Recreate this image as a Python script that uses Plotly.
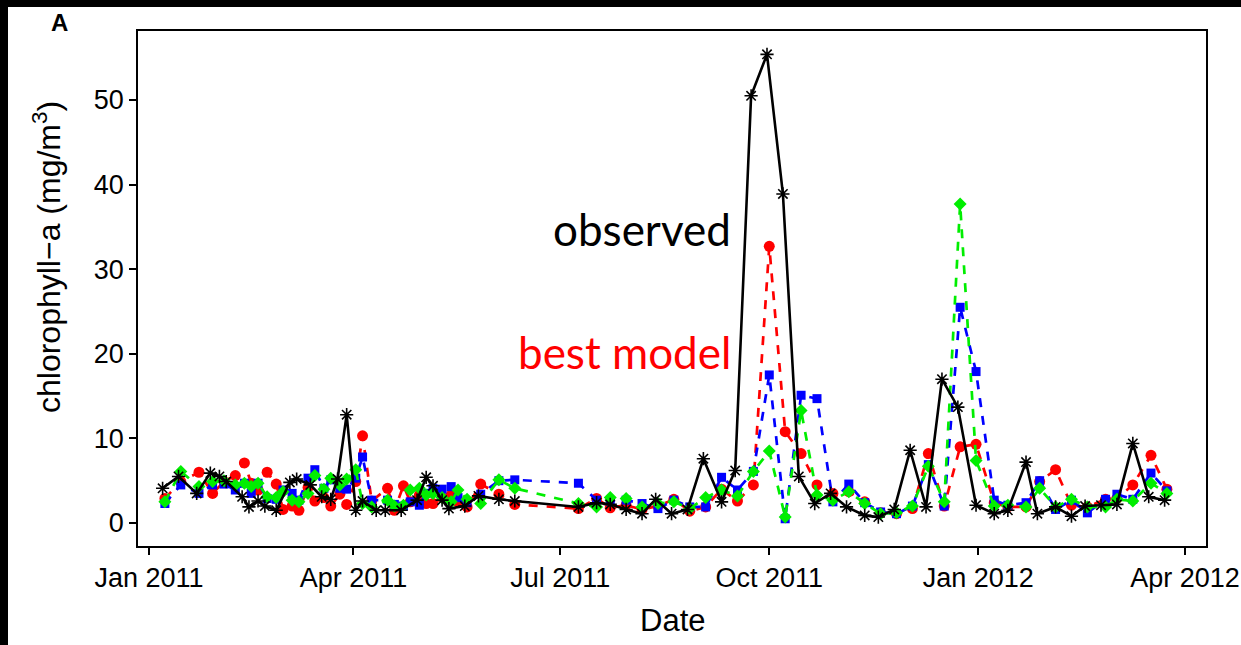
import plotly.graph_objects as go

# ---------------- data ----------------
obs_dates = [
    "2011-01-07", "2011-01-14", "2011-01-22", "2011-01-28", "2011-02-01", "2011-02-04",
    "2011-02-11", "2011-02-14", "2011-02-18", "2011-02-21", "2011-02-26", "2011-03-04",
    "2011-03-07", "2011-03-13", "2011-03-18", "2011-03-22", "2011-03-25", "2011-03-29",
    "2011-04-02", "2011-04-05", "2011-04-11", "2011-04-15", "2011-04-22", "2011-04-29",
    "2011-05-03", "2011-05-06", "2011-05-10", "2011-05-13", "2011-05-20", "2011-05-26",
    "2011-06-04", "2011-06-11", "2011-07-09", "2011-07-17", "2011-07-23", "2011-07-30",
    "2011-08-06", "2011-08-12", "2011-08-19", "2011-08-26", "2011-09-02", "2011-09-10",
    "2011-09-16", "2011-09-23", "2011-09-30", "2011-10-07", "2011-10-14", "2011-10-21",
    "2011-10-28", "2011-11-04", "2011-11-12", "2011-11-18", "2011-11-25", "2011-12-02",
    "2011-12-09", "2011-12-16", "2011-12-23", "2011-12-31", "2012-01-08", "2012-01-14",
    "2012-01-22", "2012-01-27", "2012-02-04", "2012-02-11", "2012-02-17", "2012-02-24",
    "2012-03-02", "2012-03-09", "2012-03-16", "2012-03-23",
]
obs_values = [
    4.1, 5.5, 3.5, 5.9, 5.5, 4.9,
    3.1, 1.9, 2.6, 2.0, 1.5, 4.8,
    5.2, 4.5, 3.1, 2.8, 5.2, 12.8,
    1.5, 2.6, 1.5, 1.5, 1.5, 2.7,
    5.4, 4.4, 2.7, 1.7, 2.0, 3.2,
    2.8, 2.6, 1.9, 2.4, 2.2, 1.6,
    1.1, 2.8, 1.1, 1.6, 7.6, 2.5,
    6.2, 50.5, 55.4, 38.9, 5.5, 2.3,
    3.5, 1.9, 0.9, 0.7, 1.6, 8.6,
    1.9, 17.0, 13.7, 2.1, 1.1, 1.5,
    7.2, 1.1, 1.9, 0.8, 2.0, 2.1,
    2.2, 9.4, 3.1, 2.7,
]

model_dates = [
    "2011-01-08", "2011-01-15", "2011-01-23", "2011-01-29", "2011-02-03", "2011-02-08",
    "2011-02-12", "2011-02-15", "2011-02-18", "2011-02-22", "2011-02-26", "2011-03-01",
    "2011-03-05", "2011-03-08", "2011-03-12", "2011-03-15", "2011-03-19", "2011-03-22",
    "2011-03-26", "2011-03-29", "2011-04-02", "2011-04-05", "2011-04-09", "2011-04-16",
    "2011-04-19", "2011-04-23", "2011-04-26", "2011-04-30", "2011-05-03", "2011-05-06",
    "2011-05-10", "2011-05-14", "2011-05-17", "2011-05-21", "2011-05-27", "2011-06-04",
    "2011-06-11", "2011-07-09", "2011-07-17", "2011-07-23", "2011-07-30", "2011-08-06",
    "2011-08-13", "2011-08-20", "2011-08-27", "2011-09-03", "2011-09-10", "2011-09-17",
    "2011-09-24", "2011-10-01", "2011-10-08", "2011-10-15", "2011-10-22", "2011-10-29",
    "2011-11-05", "2011-11-12", "2011-11-19", "2011-11-26", "2011-12-03", "2011-12-10",
    "2011-12-17", "2011-12-24", "2011-12-31", "2012-01-08", "2012-01-14", "2012-01-22",
    "2012-01-28", "2012-02-04", "2012-02-11", "2012-02-18", "2012-02-26", "2012-03-02",
    "2012-03-09", "2012-03-17", "2012-03-24",
]
red_values = [
    2.9, 4.9, 6.0, 3.5, 4.9, 5.6,
    7.1, 4.7, 3.9, 6.0, 4.6, 1.6,
    2.0, 1.5, 4.2, 2.6, 3.0, 2.0,
    3.4, 2.2, 4.9, 10.3, 2.6, 4.1,
    1.5, 4.4, 2.5, 3.3, 2.3, 2.3,
    3.0, 3.3, 2.5, 1.9, 4.6, 3.4,
    2.2, 1.7, 2.9, 1.8, 2.1, 1.6,
    2.0, 2.8, 1.4, 1.9, 4.0, 2.6,
    4.5, 32.7, 10.8, 8.2, 4.5, 3.5,
    3.7, 2.5, 1.2, 1.1, 1.7, 8.2,
    2.0, 9.0, 9.3, 2.4, 1.9, 1.9,
    4.9, 6.3, 2.1, 1.9, 2.8, 2.9,
    4.5, 8.0, 4.0,
]
blue_values = [
    2.3, 4.5, 3.5, 4.5, 4.6, 3.9,
    4.7, 3.5, 4.7, 2.9, 2.8, 3.9,
    3.5, 2.7, 5.3, 6.3, 4.1, 5.1,
    4.1, 4.0, 5.3, 7.8, 2.7, 2.7,
    2.2, 2.0, 2.5, 2.1, 3.5, 4.1,
    4.0, 4.3, 3.0, 2.4, 3.4, 5.0,
    5.1, 4.7, 2.7, 2.6, 2.7, 2.3,
    1.7, 2.7, 1.9, 1.9, 5.4, 3.9,
    6.1, 17.5, 0.5, 15.1, 14.7, 2.5,
    4.6, 2.4, 1.3, 1.1, 2.0, 6.9,
    2.0, 25.5, 17.9, 2.7, 2.1, 2.4,
    5.0, 1.6, 2.7, 1.2, 2.8, 3.4,
    2.8, 5.9, 3.8,
]
green_values = [
    2.5, 6.1, 4.3, 4.9, 5.0, 4.5,
    4.7, 4.3, 4.7, 3.1, 3.0, 3.7,
    2.7, 2.5, 3.5, 5.6, 4.0, 5.3,
    4.5, 5.2, 6.3, 2.3, 1.9, 2.7,
    2.0, 2.1, 3.9, 4.1, 3.3, 3.5,
    3.0, 2.5, 3.9, 2.8, 2.3, 5.1,
    4.1, 2.3, 1.9, 3.0, 2.9, 1.9,
    2.3, 2.5, 1.7, 3.0, 3.9, 3.2,
    6.1, 8.5, 0.7, 13.3, 3.3, 2.7,
    3.7, 2.3, 1.1, 1.2, 2.0, 6.7,
    2.5, 37.7, 7.4, 2.0, 2.1, 1.9,
    4.1, 1.9, 2.8, 1.9, 1.9, 2.8,
    2.6, 4.7, 3.5,
]

x_tick_dates = ["2011-01-01", "2011-04-01", "2011-07-01", "2011-10-01", "2012-01-01", "2012-04-01"]
x_tick_labels = ["Jan 2011", "Apr 2011", "Jul 2011", "Oct 2011", "Jan 2012", "Apr 2012"]
y_tick_values = [0, 10, 20, 30, 40, 50]

# ---------------- figure ----------------
W, H = 1241, 645
ML, MR, MT, MB = 138, 35, 31, 99
PW, PH = W - ML - MR, H - MT - MB


def px_x(px):
    return (px - ML) / PW


def px_y(py):
    return (H - MB - py) / PH


fig = go.Figure()

fig.add_trace(go.Scatter(
    x=model_dates, y=red_values, mode="lines+markers", name="red",
    line=dict(color="#ff0000", width=2.7, dash="dash"),
    marker=dict(symbol="circle", size=11, color="#ff0000"),
))
fig.add_trace(go.Scatter(
    x=model_dates, y=blue_values, mode="lines+markers", name="blue",
    line=dict(color="#0000ff", width=2.7, dash="dash"),
    marker=dict(symbol="square", size=9, color="#0000ff"),
))
fig.add_trace(go.Scatter(
    x=model_dates, y=green_values, mode="lines+markers", name="green",
    line=dict(color="#00ee00", width=2.7, dash="dash"),
    marker=dict(symbol="diamond", size=10, color="#00ee00"),
))
fig.add_trace(go.Scatter(
    x=obs_dates, y=obs_values, mode="lines+markers", name="observed",
    line=dict(color="#000000", width=2.6),
    marker=dict(symbol="asterisk-open", size=11, color="#000000",
                line=dict(color="#000000", width=1.6)),
))

font_axis = "Liberation Sans, Arial, sans-serif"

fig.update_layout(
    width=W, height=H,
    margin=dict(l=ML, r=MR, t=MT, b=MB, pad=0, autoexpand=False),
    paper_bgcolor="white", plot_bgcolor="white",
    showlegend=False,
    font=dict(family=font_axis, size=27, color="black"),
    xaxis=dict(
        type="date",
        automargin=False,
        range=["2010-12-27 04:00", "2012-04-10 05:00"],
        tickvals=x_tick_dates, ticktext=x_tick_labels,
        ticks="outside", ticklen=7, tickwidth=1.5, tickcolor="black",
        showline=True, linecolor="black", linewidth=1.5, mirror=True,
        showgrid=False, zeroline=False,
        tickfont=dict(size=27, family=font_axis),
    ),
    yaxis=dict(
        automargin=False,
        range=[-2.72, 58.16],
        tickvals=y_tick_values,
        ticks="outside", ticklen=7, tickwidth=1.5, tickcolor="black",
        showline=True, linecolor="black", linewidth=1.5, mirror=True,
        showgrid=False, zeroline=False,
        tickfont=dict(size=27, family=font_axis),
    ),
)

# axis titles
fig.add_annotation(text="Date", xref="paper", yref="paper",
                   x=px_x(672), y=px_y(620), showarrow=False,
                   xanchor="center", yanchor="middle",
                   font=dict(size=31, family=font_axis, color="black"))
fig.add_annotation(text="chlorophyll−a (mg/m<sup>3</sup>)", xref="paper", yref="paper",
                   x=px_x(47), y=px_y(257), showarrow=False, textangle=-90,
                   xanchor="center", yanchor="middle",
                   font=dict(size=32, family=font_axis, color="black"))

# black strips at top and left edge of the picture
fig.add_shape(type="rect", xref="paper", yref="paper",
              x0=px_x(0) - 0.01, x1=px_x(W) + 0.01,
              y0=px_y(7), y1=px_y(0) + 0.01,
              fillcolor="black", line=dict(width=0), layer="above")
fig.add_shape(type="rect", xref="paper", yref="paper",
              x0=px_x(0) - 0.01, x1=px_x(8),
              y0=px_y(H) - 0.01, y1=px_y(0) + 0.01,
              fillcolor="black", line=dict(width=0), layer="above")

# panel letter
fig.add_annotation(text="<b>A</b>", xref="paper", yref="paper",
                   x=px_x(59), y=px_y(22),
                   showarrow=False, xanchor="center", yanchor="middle",
                   font=dict(size=24, family=font_axis, color="black"))

# in-plot labels
fig.add_annotation(text="observed", xref="paper", yref="paper",
                   x=px_x(733), y=px_y(229),
                   showarrow=False, xanchor="right", yanchor="middle",
                   font=dict(size=44, family="Lato, sans-serif", color="black"))
fig.add_annotation(text="best model", xref="paper", yref="paper",
                   x=px_x(733), y=px_y(352),
                   showarrow=False, xanchor="right", yanchor="middle",
                   font=dict(size=44, family="Lato, sans-serif", color="#ff0000"))

fig.write_html("out.html")
